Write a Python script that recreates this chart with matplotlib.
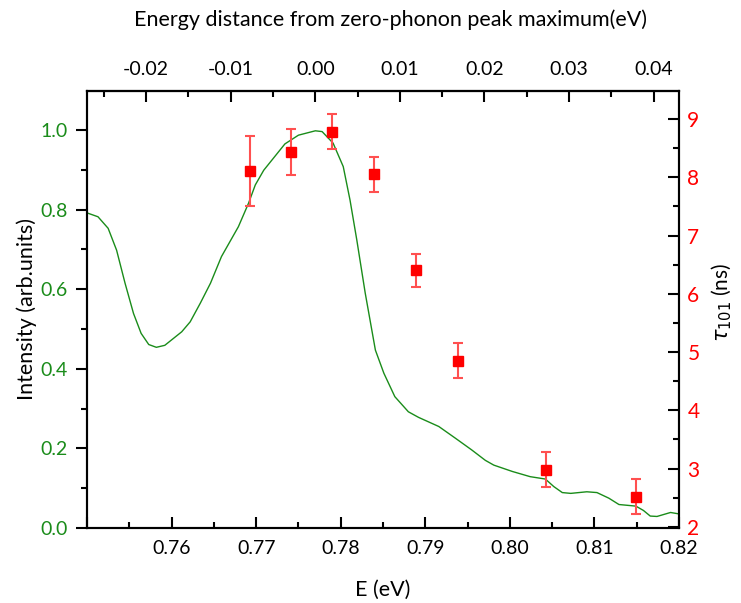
import matplotlib
matplotlib.use('Agg')
import matplotlib.pyplot as plt
from matplotlib.ticker import MultipleLocator

plt.rcParams['font.family'] = ['Lato', 'DejaVu Sans']

# emission spectrum (green line), intensity in arb. units vs photon energy E (eV)
spec_E = [0.7501, 0.7513, 0.7525, 0.7535, 0.7545, 0.7555, 0.7564, 0.7573, 0.7582,
          0.7592, 0.7612, 0.7622, 0.7634, 0.7646, 0.7659, 0.7679, 0.7691, 0.7699,
          0.7709, 0.7734, 0.7750, 0.7770, 0.7778, 0.7791, 0.7803, 0.7811, 0.7819,
          0.7829, 0.7841, 0.7851, 0.7864, 0.7880, 0.7892, 0.7916, 0.7936, 0.7955,
          0.7971, 0.7981, 0.8003, 0.8024, 0.8042, 0.8052, 0.8062, 0.8072, 0.8091,
          0.8103, 0.8117, 0.8129, 0.8149, 0.8158, 0.8166, 0.8174, 0.8190, 0.8201]
spec_I = [0.791, 0.782, 0.753, 0.698, 0.615, 0.539, 0.489, 0.461, 0.454,
          0.459, 0.493, 0.518, 0.565, 0.615, 0.682, 0.757, 0.816, 0.862,
          0.899, 0.965, 0.987, 0.998, 0.996, 0.967, 0.908, 0.824, 0.724,
          0.590, 0.447, 0.389, 0.330, 0.292, 0.278, 0.255, 0.225, 0.196,
          0.170, 0.158, 0.142, 0.129, 0.123, 0.104, 0.089, 0.087, 0.091,
          0.089, 0.075, 0.059, 0.055, 0.044, 0.030, 0.029, 0.039, 0.035]

# lifetimes (red squares)
tau_E = [0.7693, 0.7741, 0.7790, 0.7839, 0.7889, 0.7939, 0.8043, 0.8149]
tau_ns = [8.11, 8.43, 8.78, 8.05, 6.40, 4.85, 2.98, 2.52]
tau_err = [0.60, 0.40, 0.30, 0.30, 0.29, 0.30, 0.30, 0.30]

ZPL = 0.777  # zero-phonon peak maximum (eV)

GREEN = '#1a8c1a'
RED = '#ff0000'

fig = plt.figure(figsize=(7.41, 6.03), dpi=100)
ax = fig.add_axes([87/741, 1-528/603, 592/741, 437/603])
ax2 = ax.twinx()

ax.plot(spec_E, spec_I, color=GREEN, lw=1.0)
ax2.errorbar(tau_E, tau_ns, yerr=tau_err, fmt='s', color=RED, ms=7,
             ecolor='#ff5050', elinewidth=1.5, capsize=3.5, capthick=1.5)

ax.set_xlim(0.75, 0.82)
ax.set_ylim(0, 1.098)
ax2.set_ylim(1.98, 9.48)

ax.xaxis.set_major_locator(MultipleLocator(0.01))
ax.xaxis.set_minor_locator(MultipleLocator(0.005))
ax.yaxis.set_major_locator(MultipleLocator(0.2))
ax.yaxis.set_minor_locator(MultipleLocator(0.1))
ax2.yaxis.set_major_locator(MultipleLocator(1))
ax2.yaxis.set_minor_locator(MultipleLocator(0.5))
ax.xaxis.set_major_formatter(lambda v, p: '' if abs(v - 0.75) < 1e-6 else f'{v:.2f}')
ax.yaxis.set_major_formatter(lambda v, p: f'{v:.1f}')

top = ax.secondary_xaxis('top', functions=(lambda e: e - ZPL, lambda d: d + ZPL))
top.xaxis.set_major_locator(MultipleLocator(0.01))
top.xaxis.set_minor_locator(MultipleLocator(0.005))
top.xaxis.set_major_formatter(lambda v, p: f'{v:.2f}')

for s in ax.spines.values():
    s.set_linewidth(1.5)
for s in ax2.spines.values():
    s.set_linewidth(1.5)
top.spines['top'].set_linewidth(1.5)

ax.tick_params(axis='x', which='major', direction='in', length=8, width=1.5,
               labelsize=14, pad=9)
ax.tick_params(axis='x', which='minor', direction='in', length=4, width=1.5)
ax.tick_params(axis='y', which='major', direction='out', length=8, width=1.5,
               labelsize=14, labelcolor=GREEN, pad=6)
ax.tick_params(axis='y', which='minor', direction='out', length=4, width=1.5)
ax2.tick_params(axis='y', which='major', direction='in', length=8, width=1.5,
                labelsize=15, labelcolor=RED, pad=6)
ax2.tick_params(axis='y', which='minor', direction='in', length=4, width=1.5)
top.tick_params(axis='x', which='major', direction='in', length=8, width=1.5,
                labelsize=14, pad=9)
top.tick_params(axis='x', which='minor', direction='in', length=4, width=1.5)

ax.set_xlabel('E (eV)', fontsize=15.5, labelpad=16)
ax.set_ylabel('Intensity (arb.units)', fontsize=15.5, labelpad=2)
fig.text(391/741, 1-20/603, 'Energy distance from zero-phonon peak maximum(eV)',
         ha='center', va='center', fontsize=15.5)
fig.text(722/741, 1-302/603, r'$\tau_{101}$ (ns)', rotation=90, ha='center',
         va='center', fontsize=15)

fig.savefig('out.png', dpi=100)
